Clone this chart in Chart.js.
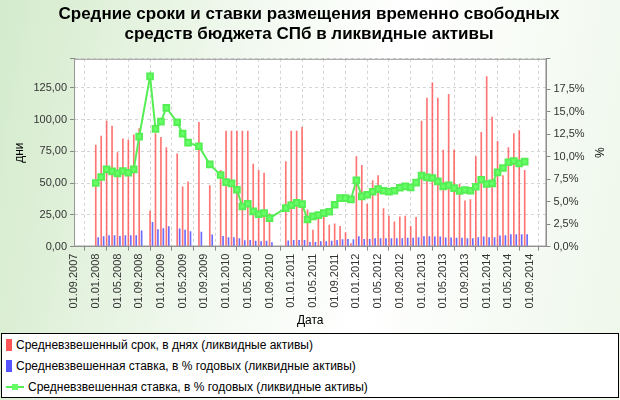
<!DOCTYPE html>
<html><head><meta charset="utf-8">
<script src="https://cdn.jsdelivr.net/npm/chart.js@4"></script>
<style>
html,body{margin:0;padding:0;width:620px;height:400px;overflow:hidden;font-family:"Liberation Sans",Arial,sans-serif;
background:linear-gradient(100deg,#d4ebcc 0%,#f4faf2 40%,#ffffff 60%,#eef7ea 100%);}
#wrap{position:absolute;left:0;top:0;width:620px;height:332px;}
#legend{position:absolute;left:1px;top:333px;width:616px;height:63px;border:1px solid #000;background:#fff;font-size:12px;color:#000;}
.it{position:absolute;left:4px;display:flex;align-items:center;}
.sw{display:inline-block;width:6px;height:12px;margin-right:4px;}
</style></head><body>
<div id="wrap"><canvas id="c" width="620" height="332"></canvas></div>
<div id="legend">
<div class="it" style="top:4px"><span class="sw" style="background:#ff5555"></span>Средневзвешенный срок, в днях (ликвидные активы)</div>
<div class="it" style="top:25px"><span class="sw" style="background:#5555ff"></span>Средневзвешенная ставка, в % годовых (ликвидные активы)</div>
<div class="it" style="top:46px"><svg width="18" height="12" style="margin-right:4px"><line x1="0" y1="6" x2="18" y2="6" stroke="#55ee55" stroke-width="2"/><rect x="6" y="3" width="6" height="6" fill="#66ff66"/></svg>Средневзвешенная ставка, в % годовых (ликвидные активы)</div>
</div>
<script>
// months since 01.09.2007
const months = [4,5,6,7,8,9,10,11,12,14,15,16,17,19,20,21,23,25,27,28,29,30,31,32,33,34,35,36,39,40,41,42,43,44,45,
46,47,48,49,50,51,52,53,54,55,56,57,58,59,60,61,62,63,64,65,66,67,68,69,70,71,72,73,74,75,76,77,78,79,80,81,82,83];
const termDays = [80,87,99,95,74,85,84,88,93,28,89,86,78,73,47,51,98,48,60,91,91,91,91,91,65,60,58,26,67,91,91,94,29,13,23,
26,17,18,16,11,2.4,71,64,33.5,52,56,30,24,19.5,23.5,24,16,23,99,117,129,117,76,120,76,49,36,37,71,90,134,102,83,56,78,89,91.5,60];
const rateBars = [1.0,1.1,1.23,1.23,1.15,1.23,1.23,1.23,1.75,2.7,1.9,2.0,2.23,1.97,1.82,1.67,1.6,1.3,1.15,1.0,1.0,0.9,0.67,0.7,0.6,0.56,0.6,0.45,0.63,0.7,0.7,0.7,0.48,0.48,0.56,
0.55,0.6,0.7,0.78,0.8,0.78,1.1,0.8,0.8,0.9,0.9,0.9,0.9,0.9,0.9,0.93,0.93,1.0,1.1,1.1,1.08,1.08,0.97,0.97,0.93,0.93,0.9,0.9,1.0,1.08,1.0,1.0,1.2,1.23,1.34,1.34,1.34,1.34];
const rateLine = [7.07,7.74,8.59,8.37,8.15,8.41,8.22,8.59,12.24,18.94,13.1,13.91,15.44,13.84,12.57,11.57,11.16,9.15,7.96,7.18,7.03,6.32,4.46,4.76,3.91,3.61,3.72,3.16,4.28,4.61,4.87,4.72,3.01,3.35,3.5,
3.72,3.87,4.65,5.39,5.39,5.25,7.37,5.58,5.77,6.10,6.40,6.21,6.10,6.21,6.55,6.70,6.58,7.11,7.89,7.70,7.63,7.25,6.70,6.81,6.51,6.18,6.29,6.21,6.66,7.44,6.96,7.03,8.26,8.74,9.38,9.52,9.26,9.45];
const tickLabels = ["01.09.2007","01.01.2008","01.05.2008","01.09.2008","01.01.2009","01.05.2009","01.09.2009","01.01.2010","01.05.2010","01.09.2010","01.01.2011","01.05.2011","01.09.2011","01.01.2012","01.05.2012","01.09.2012","01.01.2013","01.05.2013","01.09.2013","01.01.2014","01.05.2014","01.09.2014"];

const pts = a => a.map((v,i)=>({x:months[i],y:v}));
const plotBg = {id:'plotBg',beforeDraw(ch){const a=ch.chartArea,c=ch.ctx;c.save();c.fillStyle='#fff';c.fillRect(a.left,a.top,a.right-a.left,a.bottom-a.top);c.restore();},
 afterDraw(ch){const a=ch.chartArea,c=ch.ctx;c.save();c.strokeStyle='#999';c.lineWidth=1;c.strokeRect(a.left+0.5,a.top+0.5,a.right-a.left-1,a.bottom-a.top-1);c.restore();}};
const font = {family:'"Liberation Sans",Arial,sans-serif',size:11};
new Chart(document.getElementById('c'),{
 data:{datasets:[
  {type:'line',data:pts(rateLine),yAxisID:'y2',borderColor:'#55ee55',borderWidth:2,pointStyle:'rect',pointRadius:4,pointBackgroundColor:'#66ff66',pointBorderColor:'#55ee55',tension:0,order:0},
  {type:'bar',data:pts(termDays),yAxisID:'y',backgroundColor:'rgba(255,70,70,0.75)',barThickness:1,grouped:false,order:2},
  {type:'bar',data:pts(rateBars).map(p=>({x:p.x+0.45,y:p.y})),yAxisID:'y2',backgroundColor:'rgba(70,70,255,0.8)',barThickness:1,grouped:false,order:1}
 ]},
 options:{responsive:false,animation:false,
  layout:{padding:{left:8,right:10,top:0,bottom:0}},
  plugins:{legend:{display:false},tooltip:{enabled:false},
   title:{display:true,text:['Средние сроки и ставки размещения временно свободных','средств бюджета СПб в ликвидные активы'],
    font:{family:'"Liberation Sans",Arial,sans-serif',size:17,weight:'bold'},color:'#000',padding:{top:4,bottom:14},lineHeight:1.25}},
  scales:{
   x:{type:'linear',min:0,max:87,offset:false,
    ticks:{stepSize:4,autoSkip:false,minRotation:90,maxRotation:90,color:'#333',font,callback:v=>(v%4===0&&v/4<tickLabels.length)?tickLabels[v/4]:''},
    grid:{color:'#d4d4d4',tickColor:'#888',drawTicks:true,tickLength:4},border:{dash:[3,3],color:'#888'},
    title:{display:true,text:'Дата',color:'#000',font:{...font,size:12},padding:{top:2}}},
   y:{position:'left',min:0,max:148,
    ticks:{stepSize:25,color:'#333',font,callback:v=>(v%25===0)?v.toFixed(2).replace('.',','):''},
    grid:{color:'#d4d4d4',tickColor:'#888',tickLength:4},border:{dash:[3,3],color:'#888'},
    title:{display:true,text:'дни',color:'#000',font:{...font,size:12}}},
   y2:{position:'right',min:0,max:20.9,
    ticks:{stepSize:2.5,color:'#333',font,callback:v=>(Math.abs(v/2.5-Math.round(v/2.5))<1e-6)?v.toFixed(1).replace('.',',')+'%':''},
    grid:{drawOnChartArea:false,tickColor:'#888',tickLength:4},border:{color:'#888'},
    title:{display:true,text:'%',color:'#000',font:{...font,size:12}}}
  }},
 plugins:[plotBg]
});
</script></body></html>
